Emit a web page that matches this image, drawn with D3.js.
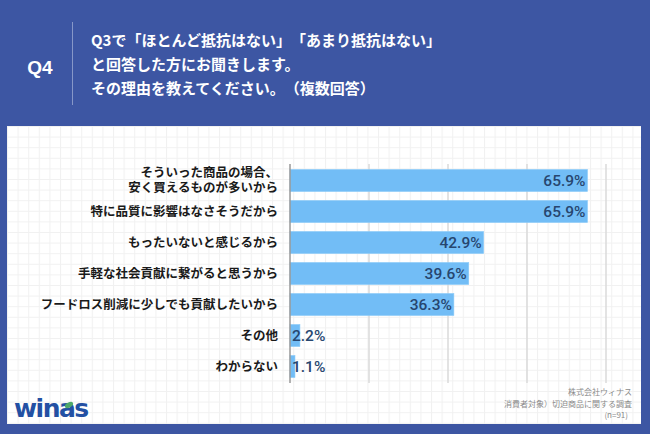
<!DOCTYPE html>
<html><head><meta charset="utf-8">
<script src="https://cdn.jsdelivr.net/npm/d3@7/dist/d3.min.js"></script>
<style>html,body{margin:0;padding:0;background:#3d56a3;}svg{display:block;}
text{text-spacing-trim:space-all;}</style>
</head><body>
<script>
const categories = [
  ["そういった商品の場合、", "安く買えるものが多いから"],
  ["特に品質に影響はなさそうだから"],
  ["もったいないと感じるから"],
  ["手軽な社会貢献に繋がると思うから"],
  ["フードロス削減に少しでも貢献したいから"],
  ["その他"],
  ["わからない"]
];
const values = [65.9, 65.9, 42.9, 39.6, 36.3, 2.2, 1.1];
const valueLabels = ["65.9%", "65.9%", "42.9%", "39.6%", "36.3%", "2.2%", "1.1%"];
const tickValues = [0, 17.5, 35, 52.5, 70];
const titleLines = [
  "Q3で「ほとんど抵抗はない」「あまり抵抗はない」",
  "と回答した方にお聞きします。",
  "その理由を教えてください。（複数回答）"
];
const qLabel = "Q4";
const footerLines = ["株式会社ウィナス", "消費者対象）切迫商品に関する調査", "(n=91)"];

const W = 650, H = 434;
const svg = d3.select("body").append("svg").attr("width", W).attr("height", H);
const defs = svg.append("defs");
const pat = defs.append("pattern").attr("id","grid").attr("patternUnits","userSpaceOnUse")
  .attr("width",10.6).attr("height",10.6).attr("x",7).attr("y",126);
pat.append("rect").attr("width",10.6).attr("height",10.6).attr("fill","#fff");
pat.append("path").attr("d","M0,0.5H10.6M0.5,0V10.6").attr("stroke","#f1f1f1").attr("stroke-width",1);

svg.append("rect").attr("width",W).attr("height",H).attr("fill","#3d56a3");
svg.append("rect").attr("x",7).attr("y",126).attr("width",634).attr("height",298).attr("fill","url(#grid)");

// Header
svg.append("text").attr("x",40).attr("y",74).attr("text-anchor","middle")
  .attr("font-family","Liberation Sans, Arial, sans-serif").attr("font-weight","bold")
  .attr("font-size",19).attr("fill","#fff").text(qLabel);
svg.append("line").attr("x1",72.5).attr("x2",72.5).attr("y1",22).attr("y2",105)
  .attr("stroke","#8797c8").attr("stroke-width",1);
svg.append("g").selectAll("text").data(titleLines).join("text")
  .attr("x",91).attr("y",(d,i)=>45.5+i*24)
  .attr("font-family","Noto Sans CJK JP, sans-serif").attr("font-weight","bold")
  .attr("font-size",15).attr("fill","#fff").text(d=>d);

// Chart
const x = d3.scaleLinear().domain([0,70]).range([290,606]);
const y = d3.scaleBand().domain(d3.range(categories.length)).range([164,383])
  .paddingInner(0.29).paddingOuter(0.177);

svg.append("g").selectAll("line").data(tickValues.slice(1)).join("line")
  .attr("x1",d=>x(d)).attr("x2",d=>x(d)).attr("y1",164).attr("y2",383)
  .attr("stroke","#dadada").attr("stroke-width",1.5);

svg.append("g").selectAll("rect").data(values).join("rect")
  .attr("x",x(0)).attr("y",(d,i)=>y(i)).attr("width",d=>x(d)-x(0)).attr("height",y.bandwidth())
  .attr("fill","#72bdf6").attr("stroke","#8ccbf8").attr("stroke-width",0.6);

svg.append("line").attr("x1",x(0)).attr("x2",x(0)).attr("y1",164).attr("y2",383)
  .attr("stroke","#999").attr("stroke-width",1.5);

svg.append("g").selectAll("text").data(values).join("text")
  .attr("x",d=>d>10 ? x(d)-2 : x(0)+2)
  .attr("text-anchor",d=>d>10 ? "end" : "start")
  .attr("y",(d,i)=>y(i)+y.bandwidth()/2+5.5)
  .attr("font-family","Roboto, Liberation Sans, sans-serif").attr("font-weight",500)
  .attr("font-size",15.5).attr("fill","#27466f").text((d,i)=>valueLabels[i]);

const catG = svg.append("g");
categories.forEach((lines,i)=>{
  const cy = y(i)+y.bandwidth()/2;
  const lh = 15;
  const t = catG.append("text").attr("text-anchor","end")
    .attr("font-family","Noto Sans CJK JP, sans-serif").attr("font-weight","bold")
    .attr("font-size",12.5).attr("fill","#1a1a1a");
  lines.forEach((s,j)=>{
    t.append("tspan").attr("x",278)
      .attr("y",cy + (j-(lines.length-1)/2)*lh + 4.3).text(s);
  });
});

// Footer
svg.append("g").selectAll("text").data(footerLines).join("text")
  .attr("x",(d,i)=> i===2 ? 628 : 632).attr("y",(d,i)=>[395,407,417.5][i]).attr("text-anchor","end")
  .attr("font-family","Noto Sans CJK JP, sans-serif").attr("font-size",8)
  .attr("fill","#8a8a8a").text(d=>d);

// Logo
svg.append("text").attr("x",14).attr("y",417)
  .attr("font-family","DejaVu Sans, sans-serif").attr("font-weight","bold")
  .attr("font-size",25).attr("letter-spacing",-1.5).attr("fill","#2350a3").text("winas");
svg.append("ellipse").attr("cx",69).attr("cy",405).attr("rx",4.5).attr("ry",2.5)
  .attr("transform","rotate(-30,69,405)").attr("fill","#4fa86a");
</script>
</body></html>
